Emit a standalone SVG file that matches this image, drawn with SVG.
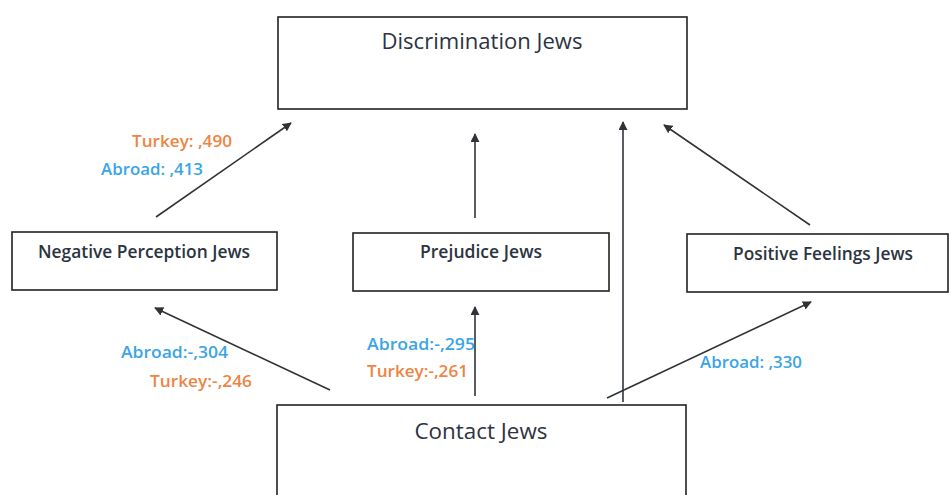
<svg xmlns="http://www.w3.org/2000/svg" width="951" height="495" viewBox="0 0 951 495">
<defs>
<marker id="ah" viewBox="0 0 10 10" refX="9" refY="5" markerWidth="9" markerHeight="9" markerUnits="userSpaceOnUse" orient="auto">
<path d="M0,0 L10,5 L0,10 z" fill="#2f3338"/>
</marker>
</defs>
<style>
.box{fill:#fff;stroke:#222;stroke-width:1.6}
.t{font-family:"Open Sans","Liberation Sans",sans-serif;fill:#2b3440;text-anchor:middle}
.big{font-size:22px}
.sm{font-size:17.5px;font-weight:600}
.lb{font-family:"Open Sans","Liberation Sans",sans-serif;font-size:16.5px;font-weight:600}
.or{fill:#ee8443}
.bl{fill:#3aa5e6}
.c{stroke:#2f3338;stroke-width:1.6;fill:none;marker-end:url(#ah)}
</style>
<rect width="951" height="495" fill="#fff"/>
<g id="discrimination">
<rect class="box" x="278" y="17" width="409" height="92"/>
<text class="t big" x="482" y="49" textLength="201" lengthAdjust="spacingAndGlyphs">Discrimination Jews</text>
</g>
<g id="negative">
<rect class="box" x="12" y="232" width="265" height="58"/>
<text class="t sm" x="144" y="258" textLength="212" lengthAdjust="spacingAndGlyphs">Negative Perception Jews</text>
</g>
<g id="prejudice">
<rect class="box" x="353" y="233" width="256" height="58"/>
<text class="t sm" x="481" y="258" textLength="122" lengthAdjust="spacingAndGlyphs">Prejudice Jews</text>
</g>
<g id="positive">
<rect class="box" x="687" y="234" width="261" height="58"/>
<text class="t sm" x="823" y="260" textLength="180" lengthAdjust="spacingAndGlyphs">Positive Feelings Jews</text>
</g>
<g id="contact">
<rect class="box" x="277" y="405" width="409" height="100"/>
<text class="t big" x="481" y="439" textLength="133" lengthAdjust="spacingAndGlyphs">Contact Jews</text>
</g>
<g id="connectors">
<line class="c" x1="156" y1="217" x2="291" y2="123"/>
<line class="c" x1="475" y1="218" x2="475" y2="134"/>
<line class="c" x1="623" y1="402" x2="623" y2="122"/>
<line class="c" x1="810" y1="225" x2="664" y2="125"/>
<line class="c" x1="330" y1="390" x2="155" y2="308"/>
<line class="c" x1="475" y1="396" x2="475" y2="307"/>
<line class="c" x1="607" y1="398" x2="811" y2="302"/>
</g>
<g id="labels">
<text class="lb or" x="132" y="147" textLength="100" lengthAdjust="spacingAndGlyphs">Turkey: ,490</text>
<text class="lb bl" x="101" y="175" textLength="102" lengthAdjust="spacingAndGlyphs">Abroad: ,413</text>
<text class="lb bl" x="121" y="358" textLength="107" lengthAdjust="spacingAndGlyphs">Abroad:-,304</text>
<text class="lb or" x="150" y="387" textLength="102" lengthAdjust="spacingAndGlyphs">Turkey:-,246</text>
<text class="lb bl" x="367" y="350" textLength="108" lengthAdjust="spacingAndGlyphs">Abroad:-,295</text>
<text class="lb or" x="367" y="377" textLength="101" lengthAdjust="spacingAndGlyphs">Turkey:-,261</text>
<text class="lb bl" x="700" y="368" textLength="102" lengthAdjust="spacingAndGlyphs">Abroad: ,330</text>
</g>
</svg>
